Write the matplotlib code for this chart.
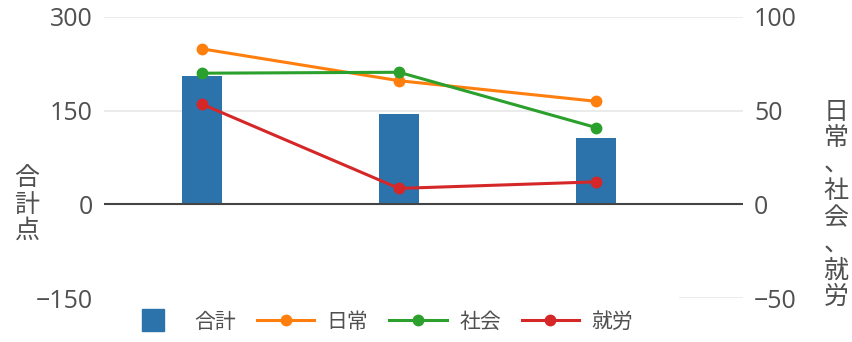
import matplotlib
matplotlib.use("Agg")
import matplotlib.pyplot as plt
from matplotlib.lines import Line2D

plt.rcParams['font.family'] = ['Open Sans', 'Noto Sans CJK JP', 'DejaVu Sans']

categories = ["A", "B", "C"]
total = [206, 144, 107]
nichijo = [83, 66, 55]
shakai = [70, 70.5, 41]
shuro = [53.5, 8.5, 12]
left_ticks = [-150, 0, 150, 300]
right_ticks = [-50, 0, 50, 100]

c_bar = "#2c72ab"
c_or = "#ff7f0e"
c_gr = "#2ca02c"
c_rd = "#d62728"
tc = "#505050"

fig = plt.figure(figsize=(8.53, 3.42), dpi=100)
ax = fig.add_axes([104/853, 1-298/342, (743-104)/853, (298-17)/342])
ax2 = ax.twinx()

x = list(range(len(categories)))
ax.bar(x, total, width=0.2, color=c_bar, zorder=3)
ax.set_ylim(-150, 300)
ax.set_xlim(-0.497, 2.746)
ax2.set_ylim(-50, 100)

for v in [150, 300]:
    ax.axhline(v, color="#e8e8e8", lw=1.2, zorder=0)
ax.axhline(-150, xmin=(680-104)/639, xmax=1, color="#e8e8e8", lw=1.2, zorder=0)
ax.axhline(0, color="#444444", lw=1.5, zorder=4)

ax2.plot(x, nichijo, color=c_or, lw=2.2, marker='o', ms=7.5, zorder=5)
ax2.plot(x, shakai, color=c_gr, lw=2.2, marker='o', ms=7.5, zorder=5)
ax2.plot(x, shuro, color=c_rd, lw=2.2, marker='o', ms=7.5, zorder=5)

ax.set_yticks(left_ticks)
ax.set_yticklabels(["\u2212150", "0", "150", "300"])
ax2.set_yticks(right_ticks)
ax2.set_yticklabels(["\u221250", "0", "50", "100"])
ax.set_xticks([])
for a in (ax, ax2):
    for s in a.spines.values():
        s.set_visible(False)
    a.tick_params(axis='y', length=0, labelsize=18, labelcolor=tc, pad=8)
ax.patch.set_alpha(0)

fig.text(27/853, 1-205/342, "\n".join("合計点"), ha='center', va='center',
         fontsize=18, color=tc, linespacing=1.08)
fig.text(836/853, 1-205/342, "\n".join("日常、社会、就労"), ha='center', va='center',
         fontsize=18, color=tc, linespacing=1.08)

handles = [
    Line2D([], [], color=c_bar, marker='s', ms=16, ls='none'),
    Line2D([], [], color=c_or, marker='o', ms=7.5, lw=2.2),
    Line2D([], [], color=c_gr, marker='o', ms=7.5, lw=2.2),
    Line2D([], [], color=c_rd, marker='o', ms=7.5, lw=2.2),
]
leg = fig.legend(handles, ["合計", "日常", "社会", "就労"], loc='center',
                 bbox_to_anchor=(379/853, 1-322/342), ncol=4, frameon=False,
                 fontsize=15, handlelength=2.75, columnspacing=1.0,
                 handletextpad=0.6, labelcolor=tc)

fig.savefig("out.png", dpi=100)
